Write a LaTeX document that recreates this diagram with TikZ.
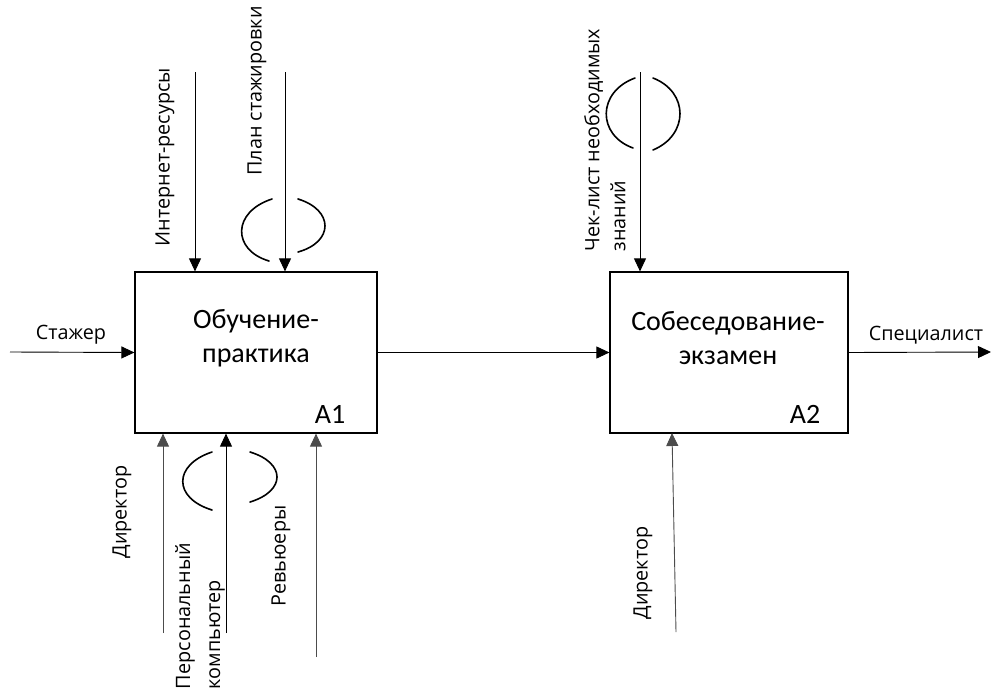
\documentclass[tikz,border=0pt]{standalone}
\usepackage{fontspec}
\setmainfont{Open Sans}
\newfontfamily\boxfont{Carlito}
\usetikzlibrary{arrows.meta}
\begin{document}
\begin{tikzpicture}[x=1pt,y=-1pt,
  func/.style={draw, line width=1.2pt, minimum width=#1, minimum height=161pt, inner sep=0pt},
  ttl/.style={font=\boxfont\fontsize{28}{34}\selectfont, align=center, inner sep=0pt},
  num/.style={font=\boxfont\fontsize{28}{30}\selectfont, inner sep=0pt},
  lbl/.style={font=\fontsize{19.8}{27}\selectfont, inner sep=0pt},
  vlbl/.style={lbl, rotate=90, align=left},
  flow/.style={line width=0.9pt, -{Triangle[length=13pt,width=12pt]}},
  gflow/.style={flow, draw=black!70},
  brace/.style={line width=1.6pt, line cap=round},
]
\useasboundingbox (0,0) rectangle (993,688);

% function boxes
\node[func=242pt] (a1) at (256,352.5) {};
\node[func=238pt] (a2) at (729,352.5) {};
\node[ttl] (t1) at (256,338) {Обучение-\\практика};
\node[ttl] (t2) at (728,338) {Собеседование-\\экзамен};
\node[num] (n1) at (330,414) {A1};
\node[num] (n2) at (805,414) {A2};

% free ends of the arrows
\coordinate (in0) at (10,352);
\coordinate (out0) at (991,352);
\coordinate (c1) at (195,72);
\coordinate (c2) at (285,72);
\coordinate (c3) at (640,72);
\coordinate (m1) at (163,633);
\coordinate (m2) at (226,633);
\coordinate (m3) at (316,657);
\coordinate (m4) at (676,632);
\coordinate (m4e) at (672,433);

% inputs and outputs
\draw[flow] (in0) -- (a1.west);
\draw[flow] (a1.east) -- (a2.west);
\draw[flow] (a2.east) -- (out0);
\node[lbl] (l0) at (71,335) {Стажер};
\node[lbl] (l9) at (926,335) {Специалист};

% controls
\draw[flow] (c1) -- (c1 |- a1.north);
\draw[flow] (c2) -- (c2 |- a1.north);
\draw[flow] (c3) -- (c3 |- a2.north);
\node[vlbl] (l1) at (165,157) {Интернет-ресурсы};
\node[vlbl] (l2) at (257,91) {План стажировки};
\node[vlbl, font=\fontsize{19.8}{26}\selectfont] (l3) at (605,140) {Чек-лист необходимых\\знаний};

% mechanisms
\draw[gflow] (m1) -- (m1 |- a1.south);
\draw[flow] (m2) -- (m2 |- a1.south);
\draw[gflow] (m3) -- (m3 |- a1.south);
\draw[gflow] (m4) -- (m4e);
\node[vlbl] (l4) at (122,512) {Директор};
\node[vlbl, font=\fontsize{19.8}{30}\selectfont] (l5) at (200,616) {Персональный\\компьютер};
\node[vlbl] (l6) at (281,556) {Ревьюеры};
\node[vlbl] (l7) at (643,573) {Директор};

% tunnelling brackets
\draw[brace] (272,199) .. controls (232,212) and (232,250) .. (269,261);
\draw[brace] (298,199) .. controls (334,210) and (334,242) .. (298,252);
\draw[brace] (635,78) .. controls (597,92) and (597,135) .. (633,148);
\draw[brace] (653,78) .. controls (689,92) and (689,135) .. (653,150);
\draw[brace] (212,452) .. controls (173,465) and (173,498) .. (212,510);
\draw[brace] (250,452) .. controls (286,463) and (286,491) .. (250,502);
\end{tikzpicture}
\end{document}
